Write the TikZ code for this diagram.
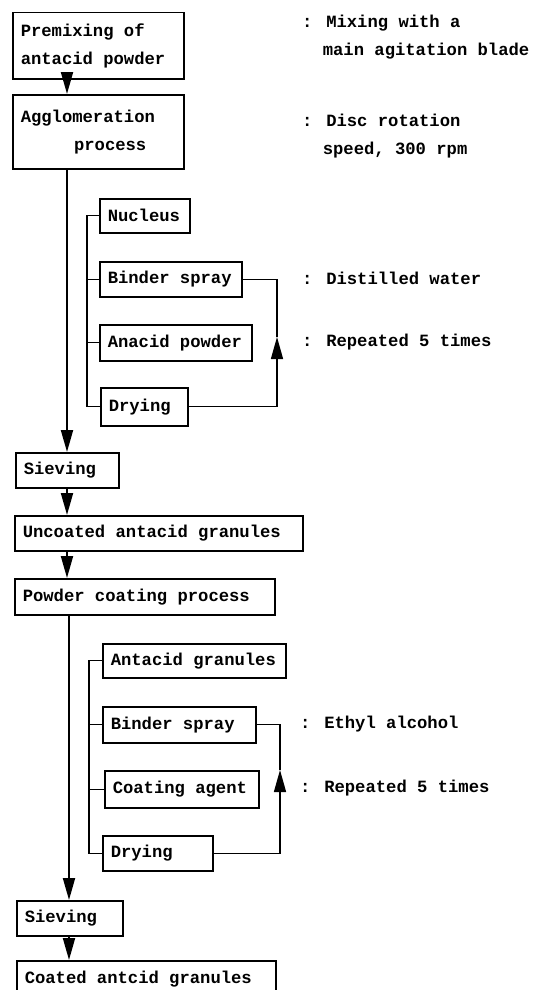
\documentclass[tikz,border=0pt]{standalone}
\usepackage{fontspec}
\setmainfont{Liberation Mono}
\usetikzlibrary{arrows.meta,calc}
\tikzset{
  box/.style={draw, line width=1.5pt, anchor=north west, inner xsep=8pt, inner ysep=0pt, align=flush left},
  note/.style={anchor=west, inner sep=0pt, align=flush left},
  arr/.style={line width=1.8pt, -{Triangle[length=22pt,width=12pt]}},
  bus/.style={line width=1.1pt},
}

\begin{document}
\begin{tikzpicture}[x=1pt,y=-1pt,font=\fontsize{17.2}{28}\selectfont\bfseries]
\fill[white] (0,0) rectangle (540,990);
\useasboundingbox (0,0) rectangle (540,990);
\coordinate (spine1) at (67,0);
\coordinate (spine2) at (69,0);
\coordinate (bus1) at (87,0);
\coordinate (bus2) at (89,0);
% agglomeration stage
\node[box,text width=155pt,minimum height=66pt] (pre) at (12,12) {Premixing of\\antacid powder};
\node[box,text width=155pt,minimum height=74pt] (agg) at (12,94) {Agglomeration\\\hspace*{3.1em}process};
\node[box,text width=74pt,minimum height=34pt] (nuc) at (99,198) {Nucleus};
\node[box,text width=126pt,minimum height=35pt] (bind1) at (99,261) {Binder spray};
\node[box,text width=136pt,minimum height=36pt] (ana) at (99,324) {Anacid powder};
\node[box,text width=71pt,minimum height=38pt] (dry1) at (100,387) {Drying};
\node[box,text width=87pt,minimum height=35pt] (siev1) at (15,452) {Sieving};
\node[box,text width=272pt,minimum height=35pt] (unc) at (14,515) {Uncoated antacid granules};
% coating stage
\node[box,text width=244pt,minimum height=36pt] (pow) at (14,578) {Powder coating process};
\node[box,text width=167pt,minimum height=34pt] (gran) at (102,643) {Antacid granules};
\node[box,text width=137pt,minimum height=36pt] (bind2) at (102,706) {Binder spray};
\node[box,text width=138pt,minimum height=37pt] (coat) at (104,770) {Coating agent};
\node[box,text width=94pt,minimum height=35pt] (dry2) at (102,835) {Drying};
\node[box,text width=90pt,minimum height=35pt] (siev2) at (16,900) {Sieving};
\node[box,text width=243pt,minimum height=36pt] (coated) at (16,960) {Coated antcid granules};
% notes
\node[note] (n1) at (302,37) {: Mixing with a\\\hspace*{1.2em}main agitation blade};
\node[note] (n2) at (302,136) {: Disc rotation\\\hspace*{1.2em}speed, 300 rpm};
\node[note] (n3) at (302,278) {: Distilled water};
\node[note] (n4) at (302,342) {: Repeated 5 times};
\node[note] (n5) at (300,724) {: Ethyl alcohol};
\node[note] (n6) at (300,788) {: Repeated 5 times};
% main flow
\draw[arr] (pre.south -| spine1) -- (agg.north -| spine1);
\draw[arr] (agg.south -| spine1) -- (siev1.north -| spine1);
\draw[arr] (siev1.south -| spine1) -- (unc.north -| spine1);
\draw[arr] (unc.south -| spine1) -- (pow.north -| spine1);
\draw[arr] (pow.south -| spine2) -- (siev2.north -| spine2);
\draw[arr] (siev2.south -| spine2) -- (coated.north -| spine2);
% feeding lines
\draw[bus] (nuc.west) -- (nuc.west -| bus1) |- (dry1.west);
\foreach \n in {bind1,ana} \draw[bus] (\n.west) -- (\n.west -| bus1);
\draw[bus] (gran.west) -- (gran.west -| bus2) |- (dry2.west);
\foreach \n in {bind2,coat} \draw[bus] (\n.west) -- (\n.west -| bus2);
% repeat loops
\coordinate (tip1) at (277,337);
\coordinate (tip2) at (280,770);
\draw[arr,line width=1.4pt] (dry1.east) -| (tip1);
\draw[line width=1.4pt] (tip1) |- (bind1.east);
\draw[arr,line width=1.4pt] (dry2.east) -| (tip2);
\draw[line width=1.4pt] (tip2) |- (bind2.east);
\end{tikzpicture}
\end{document}
